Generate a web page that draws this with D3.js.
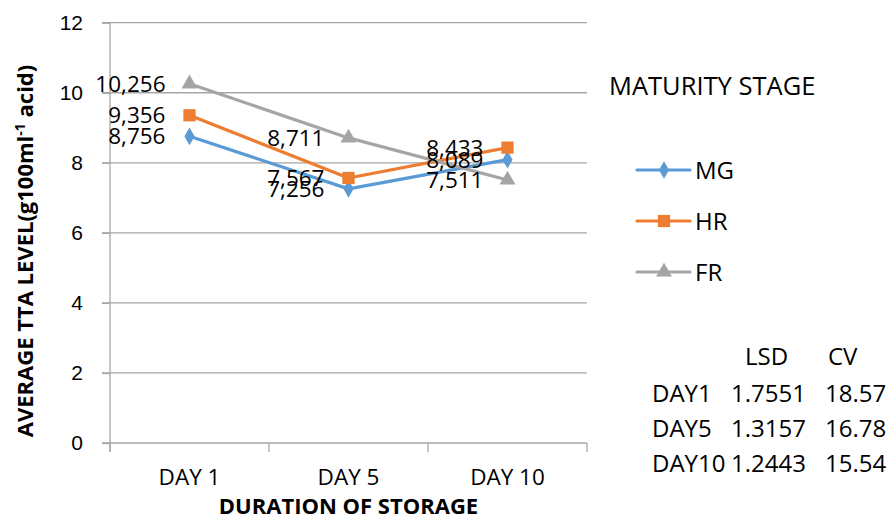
<!DOCTYPE html>
<html>
<head>
<meta charset="utf-8">
<script src="https://cdn.jsdelivr.net/npm/d3@7"></script>
<style>
  html, body { margin: 0; padding: 0; background: #fff; }
  svg { display: block; font-family: "Open Sans", sans-serif; }
  .grid line { stroke: #a6a6a6; stroke-width: 1.3px; }
  .axis path, .axis line { stroke: #a6a6a6; stroke-width: 1.3px; }
</style>
</head>
<body>
<div id="chart"></div>
<script>
// chart data
const days = ["DAY 1", "DAY 5", "DAY 10"];
const mgValues = [8.756, 7.256, 8.089];
const hrValues = [9.356, 7.567, 8.433];
const frValues = [10.256, 8.711, 7.511];
const yTicks = [0, 2, 4, 6, 8, 10, 12];

const statRows = ["DAY1", "DAY5", "DAY10"];
const lsdValues = ["1.7551", "1.3157", "1.2443"];
const cvValues = ["18.57", "16.78", "15.54"];

const series = [
  {name: "MG", values: mgValues, color: "#5b9bd5", shape: d3.symbolDiamond, size: 90},
  {name: "HR", values: hrValues, color: "#ed7d31", shape: d3.symbolSquare, size: 150},
  {name: "FR", values: frValues, color: "#a5a5a5", shape: d3.symbolTriangle, size: 110}
];

const width = 893, height = 518;
const margin = {left: 110, right: 306, top: 22.7, bottom: 75};

const svg = d3.select("#chart").append("svg")
  .attr("width", width)
  .attr("height", height);

svg.append("rect").attr("width", width).attr("height", height).attr("fill", "#fff");

const x = d3.scaleBand()
  .domain(days)
  .range([margin.left, width - margin.right]);

const y = d3.scaleLinear()
  .domain([0, 12])
  .range([443, margin.top]);

// horizontal grid lines
svg.append("g")
  .attr("class", "grid")
  .selectAll("line")
  .data(yTicks.filter(d => d > 0))
  .enter().append("line")
  .attr("x1", margin.left - 8)
  .attr("x2", width - margin.right)
  .attr("y1", d => y(d))
  .attr("y2", d => y(d));

// y axis
const yAxis = svg.append("g")
  .attr("class", "axis")
  .attr("transform", `translate(${margin.left},0)`)
  .call(d3.axisLeft(y).tickValues(yTicks).tickSize(8).tickPadding(19).tickSizeOuter(0));
yAxis.select(".domain").attr("d", `M0,${y(12)}V${y(0) + 9}`);
yAxis.selectAll("text")
  .style("font-size", "21px")
  .attr("fill", "#000");

// x axis with ticks between categories
const xAxis = svg.append("g")
  .attr("class", "axis")
  .attr("transform", `translate(0,${y(0)})`);
xAxis.append("line")
  .attr("x1", margin.left - 8)
  .attr("x2", width - margin.right);
xAxis.selectAll(".tk")
  .data(days.map(d => x(d)).concat([x.range()[1]]))
  .enter().append("line")
  .attr("x1", d => d).attr("x2", d => d)
  .attr("y1", 0).attr("y2", 9);
xAxis.selectAll("text")
  .data(days)
  .enter().append("text")
  .attr("x", d => x(d) + x.bandwidth() / 2)
  .attr("y", 42)
  .attr("text-anchor", "middle")
  .style("font-size", "22.5px")
  .text(d => d);

// axis titles
svg.append("text")
  .attr("x", x.range()[0] + (x.range()[1] - x.range()[0]) / 2)
  .attr("y", 514)
  .attr("text-anchor", "middle")
  .style("font-size", "22px")
  .style("font-weight", "bold")
  .text("DURATION OF STORAGE");

const yTitle = svg.append("text")
  .attr("transform", "translate(33,251) rotate(-90)")
  .attr("text-anchor", "middle")
  .style("font-size", "22px")
  .style("font-weight", "bold");
yTitle.append("tspan").text("AVERAGE TTA LEVEL(g100ml");
yTitle.append("tspan").attr("dy", -8).style("font-size", "14px").text("-1");
yTitle.append("tspan").attr("dy", 8).text(" acid)");

// lines and markers
const line = d3.line()
  .x((d, i) => x(days[i]) + x.bandwidth() / 2)
  .y(d => y(d));

const fmt = v => v.toFixed(3).replace(".", ",");

series.forEach(s => {
  const g = svg.append("g");
  g.append("path")
    .datum(s.values)
    .attr("d", line)
    .attr("fill", "none")
    .attr("stroke", s.color)
    .attr("stroke-width", 3.2)
    .attr("stroke-linejoin", "round");
  g.selectAll("path.mk")
    .data(s.values)
    .enter().append("path")
    .attr("class", "mk")
    .attr("d", d3.symbol().type(s.shape).size(s.size))
    .attr("transform", (d, i) => `translate(${x(days[i]) + x.bandwidth() / 2},${y(d)})`)
    .attr("fill", s.color);
});

// data labels (drawn after all lines so they sit on top)
series.forEach(s => {
  svg.append("g").selectAll("text")
    .data(s.values)
    .enter().append("text")
    .attr("x", (d, i) => x(days[i]) + x.bandwidth() / 2 - 24)
    .attr("y", d => y(d))
    .attr("dy", "0.36em")
    .attr("text-anchor", "end")
    .style("font-size", "22.5px")
    .text(d => fmt(d));
});

// legend
svg.append("text")
  .attr("x", 609)
  .attr("y", 95)
  .style("font-size", "25.5px")
  .text("MATURITY STAGE");

const legend = svg.append("g").selectAll("g")
  .data(series)
  .enter().append("g")
  .attr("transform", (d, i) => `translate(637,${170 + i * 51})`);
legend.append("line")
  .attr("x1", 0).attr("x2", 53)
  .attr("stroke", d => d.color)
  .attr("stroke-width", 3.2)
  .attr("stroke-linecap", "round");
legend.append("path")
  .attr("d", d => d3.symbol().type(d.shape).size(d.size)())
  .attr("transform", "translate(27,0)")
  .attr("fill", d => d.color);
legend.append("text")
  .attr("x", 58)
  .attr("dy", "0.36em")
  .style("font-size", "24px")
  .text(d => d.name);

// LSD / CV table
const table = svg.append("g").style("font-size", "24px");
table.append("text").attr("x", 745).attr("y", 365).text("LSD");
table.append("text").attr("x", 828).attr("y", 365).text("CV");
statRows.forEach((r, i) => {
  const yy = 402 + i * 35;
  table.append("text").attr("x", 652).attr("y", yy).text(r);
  table.append("text").attr("x", 731).attr("y", yy).text(lsdValues[i]);
  table.append("text").attr("x", 825).attr("y", yy).text(cvValues[i]);
});
</script>
</body>
</html>
